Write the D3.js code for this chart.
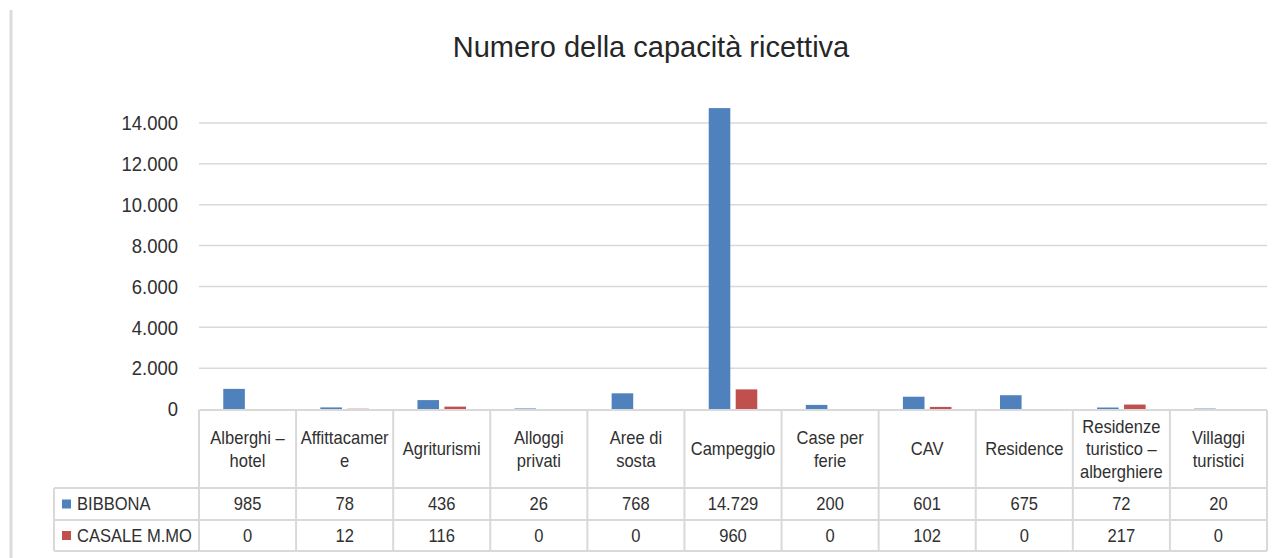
<!DOCTYPE html>
<html>
<head>
<meta charset="utf-8">
<script src="https://cdn.jsdelivr.net/npm/d3@7"></script>
<style>
  html, body { margin: 0; padding: 0; background: #fff; }
  svg { display: block; font-family: "Liberation Sans", Arial, sans-serif; }
</style>
</head>
<body>
<svg id="chart" width="1279" height="558"></svg>
<script>
// Accommodation categories (line breaks as shown in the table header)
const categories = [
  "Alberghi –\nhotel",
  "Affittacamer\ne",
  "Agriturismi",
  "Alloggi\nprivati",
  "Aree di\nsosta",
  "Campeggio",
  "Case per\nferie",
  "CAV",
  "Residence",
  "Residenze\nturistico –\nalberghiere",
  "Villaggi\nturistici"
];
const seriesNames = ["BIBBONA", "CASALE M.MO"];
const bibbona = [985, 78, 436, 26, 768, 14729, 200, 601, 675, 72, 20];
const casale = [0, 12, 116, 0, 0, 960, 0, 102, 0, 217, 0];
const yTicks = [0, 2000, 4000, 6000, 8000, 10000, 12000, 14000];
const chartTitle = "Numero della capacità ricettiva";

const seriesValues = [bibbona, casale];
const colors = ["#4f81bd", "#c0504d"];

const it = d3.formatLocale({ decimal: ",", thousands: ".", grouping: [3], currency: ["€", ""] });
const fmt = it.format(",");

const svg = d3.select("#chart");

const plotLeft = 199, plotRight = 1267, plotTop = 123, zeroY = 409;
const headerTop = 410, headerBottom = 488, row1Bottom = 520, row2Bottom = 551;
const legendLeft = 54;
const gridColor = "#d9d9d9";
const textColor = "#303030";

// frame line on the left side of the page
svg.append("line")
  .attr("x1", 11).attr("x2", 11).attr("y1", 10).attr("y2", 558)
  .attr("stroke", "#dcdcdc").attr("stroke-width", 3);

// title
svg.append("text")
  .attr("x", 651).attr("y", 57)
  .attr("text-anchor", "middle")
  .attr("font-size", 29)
  .attr("fill", "#262626")
  .text(chartTitle);

const x0 = d3.scaleBand().domain(d3.range(categories.length)).range([plotLeft, plotRight]).padding(0);
const bw = x0.bandwidth();
const x1 = d3.scaleBand().domain(d3.range(seriesNames.length))
  .range([bw * 0.25, bw * 0.75]).paddingInner(0.2);
const y = d3.scaleLinear().domain([0, 14000]).range([zeroY, plotTop]);

// gridlines
svg.append("g")
  .selectAll("line")
  .data(yTicks.filter(d => d > 0))
  .join("line")
  .attr("x1", plotLeft).attr("x2", plotRight)
  .attr("y1", d => y(d)).attr("y2", d => y(d))
  .attr("stroke", gridColor).attr("stroke-width", 1.5);

// y-axis labels (slightly condensed face)
const yAxis = d3.axisLeft(y).tickValues(yTicks).tickFormat(fmt).tickSize(0).tickPadding(0);
const yg = svg.append("g").attr("transform", `translate(178,0)`).call(yAxis);
yg.select(".domain").remove();
yg.selectAll("text")
  .attr("font-size", 21)
  .attr("font-family", "'Liberation Sans', Arial, sans-serif")
  .attr("fill", textColor)
  .attr("x", 0)
  .attr("transform", "scale(0.88,1)");

// bars
const groups = svg.append("g")
  .selectAll("g")
  .data(categories.map((c, i) => i))
  .join("g")
  .attr("transform", i => `translate(${x0(i)},0)`);

groups.selectAll("rect")
  .data(i => seriesValues.map((vals, s) => ({ s, v: vals[i] })))
  .join("rect")
  .attr("x", d => x1(d.s))
  .attr("width", x1.bandwidth())
  .attr("y", d => y(d.v))
  .attr("height", d => zeroY - y(d.v))
  .attr("fill", d => colors[d.s]);

// data table
const tbl = svg.append("g")
  .attr("stroke", gridColor).attr("stroke-width", 2).attr("fill", "none");

// horizontal rules
tbl.append("line").attr("x1", plotLeft).attr("x2", plotRight).attr("y1", headerTop).attr("y2", headerTop);
[headerBottom, row1Bottom, row2Bottom].forEach(yy => {
  tbl.append("line").attr("x1", legendLeft).attr("x2", plotRight).attr("y1", yy).attr("y2", yy);
});
// vertical rules
tbl.append("line").attr("x1", legendLeft).attr("x2", legendLeft).attr("y1", headerBottom).attr("y2", row2Bottom);
d3.range(categories.length + 1).forEach(i => {
  const xx = i < categories.length ? x0(i) : plotRight;
  tbl.append("line").attr("x1", xx).attr("x2", xx).attr("y1", headerTop).attr("y2", row2Bottom);
});

// header labels
const lineH = 22.5;
const headerMid = (headerTop + headerBottom) / 2;
categories.forEach((c, i) => {
  const lines = c.split("\n");
  const cx = x0(i) + bw / 2;
  const t = svg.append("text")
    .attr("transform", `translate(${cx},0) scale(0.92,1)`)
    .attr("text-anchor", "middle")
    .attr("font-size", 18)
    .attr("fill", textColor);
  lines.forEach((ln, k) => {
    t.append("tspan")
      .attr("x", 0)
      .attr("y", headerMid + (k - (lines.length - 1) / 2) * lineH)
      .attr("dy", "0.35em")
      .text(ln);
  });
});

// value rows
const rowMids = [(headerBottom + row1Bottom) / 2, (row1Bottom + row2Bottom) / 2];
seriesValues.forEach((vals, s) => {
  const ry = rowMids[s];
  vals.forEach((v, i) => {
    svg.append("text")
      .attr("transform", `translate(${x0(i) + bw / 2},${ry}) scale(0.92,1)`)
      .attr("text-anchor", "middle")
      .attr("dy", "0.35em")
      .attr("font-size", 18)
      .attr("fill", textColor)
      .text(fmt(v));
  });
  // legend key + series name
  svg.append("rect")
    .attr("x", 62).attr("y", ry - 4.5)
    .attr("width", 9).attr("height", 9)
    .attr("fill", colors[s]);
  svg.append("text")
    .attr("transform", `translate(77,${ry}) scale(0.92,1)`)
    .attr("dy", "0.35em")
    .attr("font-size", 18)
    .attr("fill", textColor)
    .text(seriesNames[s]);
});
</script>
</body>
</html>
